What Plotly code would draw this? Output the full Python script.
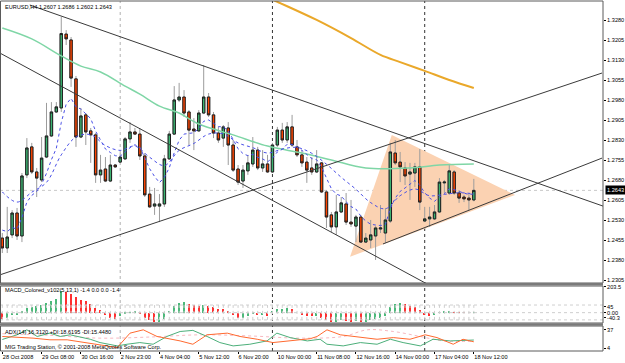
import plotly.graph_objects as go

# ---------------- data ----------------
header_text = "EURUSD,H4 1.2607 1.2686 1.2602 1.2643"
macd_title = "MACD_Colored_v102(5,13,1) -1.4 0.0 0.0 -1.4"
adx_title = "ADX(14) 16.3120 +DI:18.6195 -DI:15.4480"
copyright_text = "MIG Trading Station, © 2001-2008 MetaQuotes Software Corp."
last_price = 1.2643

opens = [1.2464, 1.2427, 1.2476, 1.2558, 1.2472, 1.2701, 1.2806, 1.2712, 1.2682, 1.2768,
         1.2847, 1.2937, 1.2952, 1.3229, 1.3207, 1.3061, 1.2843, 1.2926, 1.2866, 1.2851,
         1.2701, 1.2723, 1.2678, 1.2738, 1.2749, 1.2761, 1.2836, 1.2862, 1.2854, 1.2772,
         1.2629, 1.2584, 1.2584, 1.2592, 1.2761, 1.2854, 1.2982, 1.2993, 1.2937, 1.2873,
         1.2866, 1.2933, 1.2993, 1.2926, 1.2858, 1.2839, 1.2877, 1.2813, 1.2723, 1.2678,
         1.2716, 1.2742, 1.2794, 1.2727, 1.2742, 1.2712, 1.2813, 1.2869, 1.2832, 1.2881,
         1.2806, 1.2776, 1.2749, 1.2727, 1.2712, 1.2746, 1.2637, 1.2551, 1.2506, 1.2562,
         1.2592, 1.2524, 1.2509, 1.2543, 1.2449, 1.2457, 1.2472, 1.2498, 1.2483, 1.2528,
         1.2783, 1.2749, 1.2727, 1.2704, 1.2708, 1.2731, 1.2528, 1.2536, 1.2536, 1.2562,
         1.2671, 1.2633, 1.2712, 1.2633, 1.2618, 1.2614, 1.2607]
highs = [1.2483, 1.2581, 1.2569, 1.2577, 1.2708, 1.2839, 1.2821, 1.2727, 1.2843, 1.2971,
         1.2974, 1.2974, 1.3294, 1.3244, 1.3218, 1.3072, 1.2952, 1.2933, 1.2877, 1.2858,
         1.2776, 1.2768, 1.2776, 1.2742, 1.2783, 1.2843, 1.2899, 1.2877, 1.2877, 1.2783,
         1.2656, 1.2652, 1.2629, 1.2776, 1.2866, 1.3034, 1.3046, 1.3019, 1.2944, 1.2914,
         1.2944, 1.3113, 1.3008, 1.2937, 1.2881, 1.2888, 1.2899, 1.2832, 1.2738, 1.2738,
         1.2776, 1.2843, 1.2806, 1.2794, 1.2776, 1.2821, 1.2881, 1.2896, 1.2899, 1.2926,
         1.2832, 1.2794, 1.2768, 1.2768, 1.2794, 1.2749, 1.2644, 1.2562, 1.2626, 1.2618,
         1.2633, 1.2607, 1.2551, 1.2551, 1.2483, 1.2532, 1.2509, 1.2588, 1.2577, 1.2821,
         1.2832, 1.2787, 1.2749, 1.2746, 1.2746, 1.2798, 1.2581, 1.2581, 1.2588, 1.2689,
         1.2682, 1.2738, 1.2719, 1.2644, 1.2626, 1.2633, 1.2686]
lows = [1.2408, 1.2408, 1.2464, 1.2457, 1.2449, 1.2689, 1.2704, 1.2618, 1.2674, 1.2764,
        1.2843, 1.2933, 1.2937, 1.3188, 1.3031, 1.2806, 1.2839, 1.2813, 1.2746, 1.2671,
        1.2671, 1.2674, 1.2674, 1.2727, 1.2746, 1.2757, 1.2821, 1.2851, 1.2757, 1.2618,
        1.2577, 1.2551, 1.2524, 1.2581, 1.2757, 1.2851, 1.2974, 1.2918, 1.2813, 1.2794,
        1.2862, 1.2929, 1.2918, 1.2839, 1.2821, 1.2806, 1.2738, 1.2712, 1.2663, 1.2652,
        1.2701, 1.2731, 1.2719, 1.2712, 1.2708, 1.2708, 1.2806, 1.2821, 1.2821, 1.2806,
        1.2768, 1.2731, 1.2671, 1.2701, 1.2708, 1.2633, 1.2502, 1.2487, 1.2476, 1.2558,
        1.2513, 1.2506, 1.2449, 1.2446, 1.2446, 1.2427, 1.2382, 1.2483, 1.2446, 1.2521,
        1.2738, 1.2674, 1.2663, 1.2607, 1.2656, 1.2569, 1.2524, 1.2506, 1.2532, 1.2558,
        1.2633, 1.2626, 1.2626, 1.2596, 1.2599, 1.2569, 1.2602]
closes = [1.2427, 1.2468, 1.2558, 1.2472, 1.2697, 1.2802, 1.2712, 1.2689, 1.2764, 1.2847,
          1.2937, 1.2956, 1.3231, 1.3211, 1.3064, 1.2843, 1.2922, 1.2862, 1.2851, 1.2701,
          1.2719, 1.2678, 1.2738, 1.2731, 1.2768, 1.2836, 1.2862, 1.2854, 1.2772, 1.2626,
          1.2581, 1.2592, 1.2592, 1.2761, 1.2854, 1.2982, 1.2993, 1.2933, 1.2869, 1.2866,
          1.2933, 1.2993, 1.2926, 1.2858, 1.2832, 1.2881, 1.2813, 1.2719, 1.2674, 1.2719,
          1.2746, 1.2794, 1.2727, 1.2742, 1.2712, 1.2813, 1.2869, 1.2832, 1.2881, 1.2813,
          1.2776, 1.2746, 1.2719, 1.2712, 1.2742, 1.2637, 1.2543, 1.2506, 1.2562, 1.2596,
          1.2524, 1.2517, 1.2543, 1.2449, 1.2464, 1.2476, 1.2502, 1.2502, 1.2532, 1.2787,
          1.2746, 1.2731, 1.2697, 1.2712, 1.2731, 1.2599, 1.2536, 1.2543, 1.2562, 1.2674,
          1.2674, 1.2716, 1.2633, 1.2614, 1.2611, 1.2607, 1.2643]

# fast moving average (blue dotted), one value per bar
ma_fast = [1.2494, 1.2488, 1.2504, 1.2497, 1.2541, 1.2599, 1.2624, 1.2639, 1.2666, 1.2707,
           1.2758, 1.2801, 1.2897, 1.2966, 1.2988, 1.2956, 1.2948, 1.2929, 1.2912, 1.2865,
           1.2833, 1.2798, 1.2785, 1.2773, 1.2771, 1.2786, 1.2803, 1.2814, 1.2805, 1.2765,
           1.2724, 1.2695, 1.2672, 1.2692, 1.2728, 1.2784, 1.2831, 1.2854, 1.2857, 1.2859,
           1.2875, 1.2902, 1.2907, 1.2896, 1.2882, 1.2881, 1.2866, 1.2834, 1.2799, 1.2781,
           1.2773, 1.2778, 1.2767, 1.2761, 1.2750, 1.2764, 1.2787, 1.2797, 1.2816, 1.2815,
           1.2806, 1.2793, 1.2776, 1.2762, 1.2758, 1.2731, 1.2689, 1.2649, 1.2629, 1.2622,
           1.2600, 1.2582, 1.2573, 1.2546, 1.2528, 1.2516, 1.2513, 1.2511, 1.2515, 1.2576,
           1.2614, 1.2639, 1.2652, 1.2665, 1.2680, 1.2662, 1.2634, 1.2614, 1.2602, 1.2618,
           1.2630, 1.2649, 1.2646, 1.2639, 1.2632, 1.2627, 1.2630]
# slow moving average (blue dotted), read every third bar
ma_slow_bars = list(range(0, 97, 3))
ma_slow = [1.2637, 1.2599, 1.2636, 1.2673, 1.2776, 1.2843, 1.2852, 1.2811, 1.2793, 1.2809,
           1.2767, 1.2736, 1.2793, 1.2819, 1.2854, 1.2855, 1.2821, 1.2803, 1.2783, 1.2798,
           1.2804, 1.2782, 1.2741, 1.2692, 1.2647, 1.2597, 1.2574, 1.2623, 1.2648, 1.2623,
           1.2628, 1.2634, 1.2630]
# long moving average (light green)
ma_green_bars = [0, 6, 12, 16, 20, 25, 28, 32, 36, 40, 47, 54, 61, 67, 74, 83, 89, 96]
ma_green = [1.3252, 1.3211, 1.3147, 1.3109, 1.3087, 1.3034, 1.3004, 1.2959, 1.2933, 1.2892,
            1.2851, 1.2809, 1.2783, 1.2757, 1.2727, 1.2727, 1.2738, 1.2742]
# very long moving average (gold)
ma_gold_bars = [52, 56, 64, 71, 77, 81, 86, 91, 96]
ma_gold = [1.3383, 1.3350, 1.3282, 1.3214, 1.3151, 1.3124, 1.3091, 1.3057, 1.3027]

# trend lines: (bar0, price0, bar1, price1)
trend_lines = [
    (5.6, 1.3338, 122.3, 1.2584),
    (-0.5, 1.3158, 91.2, 1.2245),
    (-0.5, 1.2326, 122.1, 1.3083),
    (77.5, 1.2442, 122.1, 1.2764),
]
triangle_bars = [70.8, 79.3, 104.4]
triangle_prices = [1.2394, 1.2851, 1.2626]

separator_bars = [24, 55, 86]
separator_colors = ["#b0b0b0", "#333333", "#333333"]

price_ticks = [1.3280, 1.3205, 1.3130, 1.3055, 1.2980, 1.2905, 1.2830, 1.2755,
               1.2680, 1.2605, 1.2530, 1.2455, 1.2380, 1.2305]
time_ticks = [0, 8, 16, 24, 32, 40, 48, 56, 64, 72, 80, 88, 96]
time_labels = ["28 Oct 2008", "29 Oct 08:00", "30 Oct 16:00", "2 Nov 23:00", "4 Nov 04:00",
               "5 Nov 12:00", "6 Nov 20:00", "10 Nov 00:00", "11 Nov 08:00", "12 Nov 16:00",
               "14 Nov 00:00", "17 Nov 04:00", "18 Nov 12:00"]

macd_hist = [-50, -40, -20, -16, 15, 35, 45, 50, 60, 75,
             95, 110, 170, 165, 150, 120, 100, 90, 70, 40,
             20, -20, -40, -50, -30, -10, 5, 10, -10, -40,
             -60, -70, -70, -50, 10, 50, 75, 85, 70, 60,
             50, 60, 55, 45, 30, 25, 15, -20, -40, -40,
             -30, -10, -20, -16, -24, 10, 25, 30, 37, 25,
             0, -16, -24, -30, -24, -40, -60, -70, -70, -60,
             -66, -70, -66, -76, -70, -60, -50, -40, -30, 45,
             70, 75, 65, 55, 45, 20, -20, -24, -16, 5,
             6, 8, 4, 2, 1, 0, 2]
macd_levels = [60, 0, -57]
macd_band = [-57, 60]
macd_ticks = [203.5, 45, 0, -40.3]
macd_ticktext = ["203.5", "45", "0.00", "-40.3"]

adx_minus_bars = [0, 3, 6.25, 9.7, 13.2, 23.4, 26.0, 28.7, 31.5, 36.2, 38.8, 41.7, 45.8, 48.4, 51.9,
                  55.1, 58.6, 62.7, 64.1, 66.1, 68.8, 72.9, 76.3, 79.6, 83.0, 86.1, 88.5, 91.8, 93.8, 96]
adx_minus = [25, 24, 22, 19, 19, 5, 31, 37, 25, 17, 11, 28, 31, 25, 20,
             14, 17, 21, 25, 37, 28, 23, 20, 23, 20, 28, 23, 11, 20, 15.4]
adx_plus_bars = [0, 3, 5, 7.1, 9.7, 11.8, 13.8, 17.9, 19.9, 23.4, 25.4, 28.0, 30.7, 33.5, 36.2,
                 38.8, 41.7, 44.3, 47.0, 50.4, 53.9, 55.9, 58.6, 62.1, 64.7, 66.1, 69.4, 72.9, 76.3,
                 79.0, 81.6, 85.1, 87.7, 91.2, 96]
adx_plus = [19.6, 28, 37, 25, 31, 25, 28, 20, 14, 8, 11, 14, 11, 25, 34,
            36, 25, 14, 8, 11, 17, 31, 23, 17, 20, 11, 8, 14, 11,
            20, 14, 8, 20, 17, 18.6]
adx_main_bars = [0, 9.7, 19.9, 30.1, 40.3, 50.4, 60.6, 69.4, 74.3, 79.6, 85.1, 89.8, 96]
adx_main = [30, 27, 22, 24, 28, 26, 22, 25, 37, 34, 25, 17, 16.3]
adx_ticks = [37, 4]

# ---------------- styling ----------------
W, H = 625, 363
UP, DN = "#3cb371", "#ff4500"
FONT = "Liberation Sans, Arial, sans-serif"
FS = 5.6
plot_right = 603 / W


def py(pix):
    return 1 - pix / H


dom_main = [py(283), py(1)]
dom_macd = [py(323), py(286)]
dom_adx = [py(351), py(326)]
xrange_ = [-0.47, 122.3]

bars = list(range(len(opens)))
fig = go.Figure()

# moving averages (behind candles are drawn as shapes? no: traces)
fig.add_trace(go.Scatter(x=ma_green_bars, y=ma_green, mode="lines", line=dict(color="#7fd6a6", width=1.5, shape="spline"),
                         hoverinfo="skip", showlegend=False, xaxis="x", yaxis="y"))
fig.add_trace(go.Scatter(x=ma_gold_bars, y=ma_gold, mode="lines", line=dict(color="#eaa82a", width=2, shape="spline"),
                         hoverinfo="skip", showlegend=False, xaxis="x", yaxis="y"))

# candles: wicks in grey, bodies with dark outline
fig.add_trace(go.Candlestick(x=bars, open=opens, high=highs, low=lows, close=closes,
                             increasing=dict(line=dict(color="#9c9c9c", width=1), fillcolor=UP),
                             decreasing=dict(line=dict(color="#9c9c9c", width=1), fillcolor=DN),
                             whiskerwidth=0, hoverinfo="skip", showlegend=False, xaxis="x", yaxis="y"))
body_hi = [max(o, c) for o, c in zip(opens, closes)]
body_lo = [min(o, c) for o, c in zip(opens, closes)]
fig.add_trace(go.Candlestick(x=bars, open=opens, high=body_hi, low=body_lo, close=closes,
                             increasing=dict(line=dict(color="#1e1e1e", width=1), fillcolor=UP),
                             decreasing=dict(line=dict(color="#1e1e1e", width=1), fillcolor=DN),
                             whiskerwidth=0, hoverinfo="skip", showlegend=False, xaxis="x", yaxis="y"))

fig.add_trace(go.Scatter(x=bars, y=ma_fast, mode="lines", line=dict(color="#4a50e6", width=1, dash="dot"),
                         hoverinfo="skip", showlegend=False, xaxis="x", yaxis="y"))
fig.add_trace(go.Scatter(x=ma_slow_bars, y=ma_slow, mode="lines", line=dict(color="#4a50e6", width=1, dash="dot", shape="spline"),
                         hoverinfo="skip", showlegend=False, xaxis="x", yaxis="y"))

# trend lines
tx, ty = [], []
for b0, p0, b1, p1 in trend_lines:
    tx += [b0, b1, None]
    ty += [p0, p1, None]
fig.add_trace(go.Scatter(x=tx, y=ty, mode="lines", line=dict(color="#3a3a3a", width=1),
                         hoverinfo="skip", showlegend=False, xaxis="x", yaxis="y"))

# MACD panel
bx, by = [], []
for b in bars:
    bx += [b, b, None]
    by += [macd_band[0], macd_band[1], None]
fig.add_trace(go.Scatter(x=bx, y=by, mode="lines", line=dict(color="#cfcfcf", width=1, dash="dot"),
                         hoverinfo="skip", showlegend=False, xaxis="x2", yaxis="y2"))
lx, ly = [], []
for lv in macd_levels:
    lx += [xrange_[0], xrange_[1], None]
    ly += [lv, lv, None]
fig.add_trace(go.Scatter(x=lx, y=ly, mode="lines", line=dict(color="#cfcfcf", width=1, dash="dot"),
                         hoverinfo="skip", showlegend=False, xaxis="x2", yaxis="y2"))
macd_colors = ["#ff3030" if (i > 0 and v < macd_hist[i - 1]) or i == 0 else "#4cb97a"
               for i, v in enumerate(macd_hist)]
fig.add_trace(go.Bar(x=bars, y=macd_hist, width=0.3, marker=dict(color=macd_colors, line=dict(width=0)),
                     hoverinfo="skip", showlegend=False, xaxis="x2", yaxis="y2"))

# ADX panel
fig.add_trace(go.Scatter(x=adx_main_bars, y=adx_main, mode="lines", line=dict(color="#f7b8c0", width=1, dash="dot", shape="spline"),
                         hoverinfo="skip", showlegend=False, xaxis="x3", yaxis="y3"))
fig.add_trace(go.Scatter(x=adx_plus_bars, y=adx_plus, mode="lines", line=dict(color="#4caf7a", width=1),
                         hoverinfo="skip", showlegend=False, xaxis="x3", yaxis="y3"))
fig.add_trace(go.Scatter(x=adx_minus_bars, y=adx_minus, mode="lines", line=dict(color="#ff6a30", width=1),
                         hoverinfo="skip", showlegend=False, xaxis="x3", yaxis="y3"))

tickfont = dict(family=FONT, size=FS, color="#000000")
base_x = dict(range=xrange_, domain=[0, plot_right], showgrid=False, zeroline=False, showline=False,
              ticks="", showticklabels=False, automargin=False, fixedrange=True)
base_y = dict(side="right", showgrid=False, zeroline=False, showline=False, ticks="outside",
              ticklen=2, tickcolor="#000000", tickwidth=1, tickfont=tickfont, automargin=False)

shapes = []
# triangle object, drawn beneath the candles
tri_path = "M " + " L ".join(f"{b},{p}" for b, p in zip(triangle_bars, triangle_prices)) + " Z"
shapes.append(dict(type="path", xref="x", yref="y", path=tri_path, fillcolor="rgb(251,210,178)",
                   line=dict(width=0), layer="below"))
# week separators
for b, col in zip(separator_bars, separator_colors):
    shapes.append(dict(type="line", xref="x", yref="paper", x0=b, x1=b, y0=dom_adx[0], y1=dom_main[1],
                       line=dict(color=col, width=1, dash="dot"), layer="below"))
# current price line
shapes.append(dict(type="line", xref="paper", yref="y", x0=0, x1=plot_right, y0=last_price, y1=last_price,
                   line=dict(color="#c8c8c8", width=1, dash="dot"), layer="below"))
# panel frames
for d in (dom_main, dom_macd, dom_adx):
    shapes.append(dict(type="rect", xref="paper", yref="paper", x0=0.0008, x1=plot_right, y0=d[0], y1=d[1],
                       line=dict(color="#5a5a5a", width=1), fillcolor="rgba(0,0,0,0)"))
for top, bot in ((283, 285.5), (323.3, 325.7)):
    shapes.append(dict(type="rect", xref="paper", yref="paper", x0=0, x1=plot_right, y0=py(bot), y1=py(top),
                       line=dict(width=0), fillcolor="#7a7a7a"))

annotations = [
    dict(xref="paper", yref="paper", x=3 / W, y=py(7), xanchor="left", yanchor="middle", text=header_text,
         showarrow=False, font=dict(family=FONT, size=FS, color="#000000")),
    dict(xref="paper", yref="paper", x=3 / W, y=py(289.5), xanchor="left", yanchor="middle", text=macd_title,
         showarrow=False, font=dict(family=FONT, size=FS, color="#000000")),
    dict(xref="paper", yref="paper", x=3 / W, y=py(331.5), xanchor="left", yanchor="middle", text=adx_title,
         showarrow=False, font=dict(family=FONT, size=FS, color="#000000")),
    dict(xref="paper", yref="paper", x=3 / W, y=py(347), xanchor="left", yanchor="middle", text=copyright_text,
         showarrow=False, font=dict(family=FONT, size=FS, color="#000000")),
    dict(xref="paper", yref="y", x=plot_right + 0.003, y=last_price, xanchor="left", yanchor="middle",
         text=f"{last_price:.4f}", showarrow=False, bgcolor="#000000", borderpad=1,
         font=dict(family=FONT, size=FS, color="#ffffff")),
]

fig.update_layout(
    width=W, height=H, template="none",
    margin=dict(l=0, r=0, t=0, b=0, pad=0),
    paper_bgcolor="#ffffff", plot_bgcolor="#ffffff",
    showlegend=False, bargap=0, boxgap=0.3,
    xaxis=dict(base_x, anchor="y", rangeslider=dict(visible=False)),
    xaxis2=dict(base_x, anchor="y2", matches="x"),
    xaxis3=dict(base_x, anchor="y3", matches="x", ticks="outside", ticklen=2, tickcolor="#000000",
                showticklabels=True, tickvals=time_ticks, ticktext=time_labels, tickangle=0,
                ticklabelposition="outside right", tickfont=tickfont),
    yaxis=dict(base_y, domain=dom_main, range=[1.22956, 1.33531], anchor="x",
               tickvals=price_ticks, tickformat=".4f"),
    yaxis2=dict(base_y, domain=dom_macd, range=[-81.6, 210], anchor="x2",
                tickvals=macd_ticks, ticktext=macd_ticktext),
    yaxis3=dict(base_y, domain=dom_adx, range=[-1.2, 43.9], anchor="x3",
                tickvals=adx_ticks, ticktext=[str(t) for t in adx_ticks]),
    shapes=shapes, annotations=annotations,
)

fig.write_html("out.html")
